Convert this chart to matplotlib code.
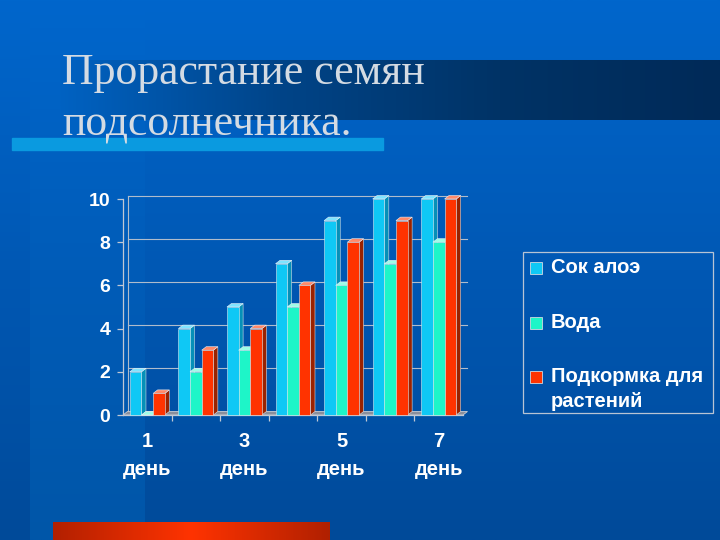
import numpy as np
import matplotlib
matplotlib.use("Agg")
import matplotlib.pyplot as plt
from matplotlib.patches import Rectangle, Polygon
from matplotlib.colors import LinearSegmentedColormap

# ---------------- data ----------------
days = [1, 2, 3, 4, 5, 6, 7]
day_labels = ["1\nдень", "", "3\nдень", "", "5\nдень", "", "7\nдень"]
aloe = [2, 4, 5, 7, 9, 10, 10]
water = [0, 2, 3, 5, 6, 7, 8]
feed = [1, 3, 4, 6, 8, 9, 10]
series_names = ["Сок алоэ", "Вода", "Подкормка для\nрастений"]
title_lines = ["Прорастание семян", "подсолнечника."]
yticks = [0, 2, 4, 6, 8, 10]

# colours: front, top, side
front_cols = ["#0fc8f5", "#1ef5c8", "#ff3300"]
top_cols = ["#7fe4ff", "#9ffde6", "#ff8a6a"]
side_cols = ["#0590b8", "#10b890", "#9a2200"]

W, H = 720, 540
fig = plt.figure(figsize=(7.2, 5.4), dpi=100)

# ---------------- background ----------------
bg = fig.add_axes([0, 0, 1, 1], zorder=-10)
bg.set_xlim(0, W)
bg.set_ylim(H, 0)
bg.axis("off")
vgrad = np.linspace(0, 1, 256).reshape(-1, 1)
bg_cmap = LinearSegmentedColormap.from_list("bg", ["#0066cc", "#0058b4", "#004a99"])
bg.imshow(vgrad, cmap=bg_cmap, extent=[0, W, H, 0], aspect="auto", zorder=0)
strip_cmap = LinearSegmentedColormap.from_list("st", ["#0066cc", "#005cb8", "#0056a8"])
bg.imshow(vgrad, cmap=strip_cmap, extent=[30, 145, H, 0], aspect="auto", zorder=1)

# dark band behind title
hgrad = np.linspace(0, 1, 256).reshape(1, -1)
band_cmap = LinearSegmentedColormap.from_list(
    "band", ["#0062c2", "#004488", "#003366", "#002a58"])
bg.imshow(hgrad, cmap=band_cmap, extent=[60, W, 120, 60], aspect="auto", zorder=2)

# light blue bar under title
bg.add_patch(Rectangle((12, 138), 371, 12, color="#0a9ae0", zorder=3))

# red bar at bottom
red_cmap = LinearSegmentedColormap.from_list(
    "red", [(0, "#b22000"), (0.5, "#ff3300"), (1, "#b02000")])
bg.imshow(hgrad, cmap=red_cmap, extent=[53, 330, H, 522], aspect="auto", zorder=3)

# title
for i, line in enumerate(title_lines):
    bg.text(62, 84 + 52 * i, line, fontsize=31.5, family="Liberation Serif",
            color="#d4dbe3", ha="left", va="baseline", zorder=5)

# ---------------- chart ----------------
ax_l, ax_r, ax_t, ax_b = 123, 463, 199, 415
ax = fig.add_axes([ax_l / W, (H - ax_b) / H, (ax_r - ax_l) / W, (ax_b - ax_t) / H])
ax.set_facecolor("none")
ax.set_xlim(0.5, 7.5)
ax.set_ylim(0, 10)

px_x = (ax_r - ax_l) / 7.0
px_y = (ax_b - ax_t) / 10.0
dx = 4.5 / px_x
dy = 3.5 / px_y

# gridlines on back wall
for v in yticks[1:]:
    ax.plot([0.5 + dx, 7.5 + dx], [v + dy, v + dy], color="#b0bccc", lw=0.8,
            zorder=1, clip_on=False)
ax.plot([0.5 + dx, 0.5 + dx], [dy, 10 + dy], color="#b0bccc", lw=0.8,
        zorder=1, clip_on=False)

# floor
floor = Polygon([(0.5, 0), (7.5, 0), (7.5 + dx, dy), (0.5 + dx, dy)],
                closed=True, facecolor="#8a8f9c", edgecolor="#c8ccd4", lw=0.6,
                zorder=2, clip_on=False)
ax.add_patch(floor)

bw = 0.24
offsets = [-bw, 0.0, bw]
all_series = [aloe, water, feed]
x = np.array(days, dtype=float)
for si, vals in enumerate(all_series):
    xs = x + offsets[si] - bw / 2
    for xi, h in zip(xs, vals):
        z = 3 + si * 0.1 + xi * 0.001
        # side face
        ax.add_patch(Polygon([(xi + bw, 0), (xi + bw + dx, dy),
                              (xi + bw + dx, h + dy), (xi + bw, h)],
                             closed=True, facecolor=side_cols[si],
                             edgecolor="#d8e0e8", lw=0.4, zorder=z,
                             clip_on=False))
        # top face
        ax.add_patch(Polygon([(xi, h), (xi + bw, h), (xi + bw + dx, h + dy),
                              (xi + dx, h + dy)],
                             closed=True, facecolor=top_cols[si],
                             edgecolor="#e8f0f8", lw=0.4, zorder=z,
                             clip_on=False))
    ax.bar(xs, vals, width=bw, align="edge", color=front_cols[si],
           edgecolor="#d8e8f0", linewidth=0.4, zorder=3 + si * 0.1 + 0.05,
           clip_on=False)

# spines & ticks
for s in ["top", "right"]:
    ax.spines[s].set_visible(False)
for s in ["left", "bottom"]:
    ax.spines[s].set_color("#c0c8d4")
    ax.spines[s].set_linewidth(0.9)

ax.set_yticks(yticks)
ax.set_yticklabels([str(v) for v in yticks])
ax.tick_params(axis="y", colors="#c0c8d4", length=4, width=0.9, pad=5,
               labelcolor="white", labelsize=14)
for lab in ax.get_yticklabels():
    lab.set_fontweight("bold")
    lab.set_family("Liberation Sans")

ax.set_xticks(days)
ax.set_xticklabels(day_labels, linespacing=1.6)
ax.set_xticks([d + 0.5 for d in days[:-1]], minor=True)
ax.tick_params(axis="x", which="major", length=0, pad=12, labelcolor="white",
               labelsize=14.5)
ax.tick_params(axis="x", which="minor", length=4, width=0.9, colors="#c0c8d4")
for lab in ax.get_xticklabels():
    lab.set_fontweight("bold")
    lab.set_family("Liberation Sans")

# ---------------- legend (drawn manually) ----------------
bg.add_patch(Rectangle((523, 252), 190, 161, fill=False, edgecolor="#b8c4d4",
                       lw=0.9, zorder=6))
leg_y = [268, 323, 377]
for si, name in enumerate(series_names):
    bg.add_patch(Rectangle((530, leg_y[si] - 6), 12, 12,
                           facecolor=front_cols[si], edgecolor="#d0d8e0",
                           lw=0.6, zorder=7))
    bg.text(551, leg_y[si] - 10, name, fontsize=14.5, fontweight="bold",
            family="Liberation Sans", color="white", ha="left", va="top",
            linespacing=1.4, zorder=7)

fig.savefig("out.png", dpi=100)
